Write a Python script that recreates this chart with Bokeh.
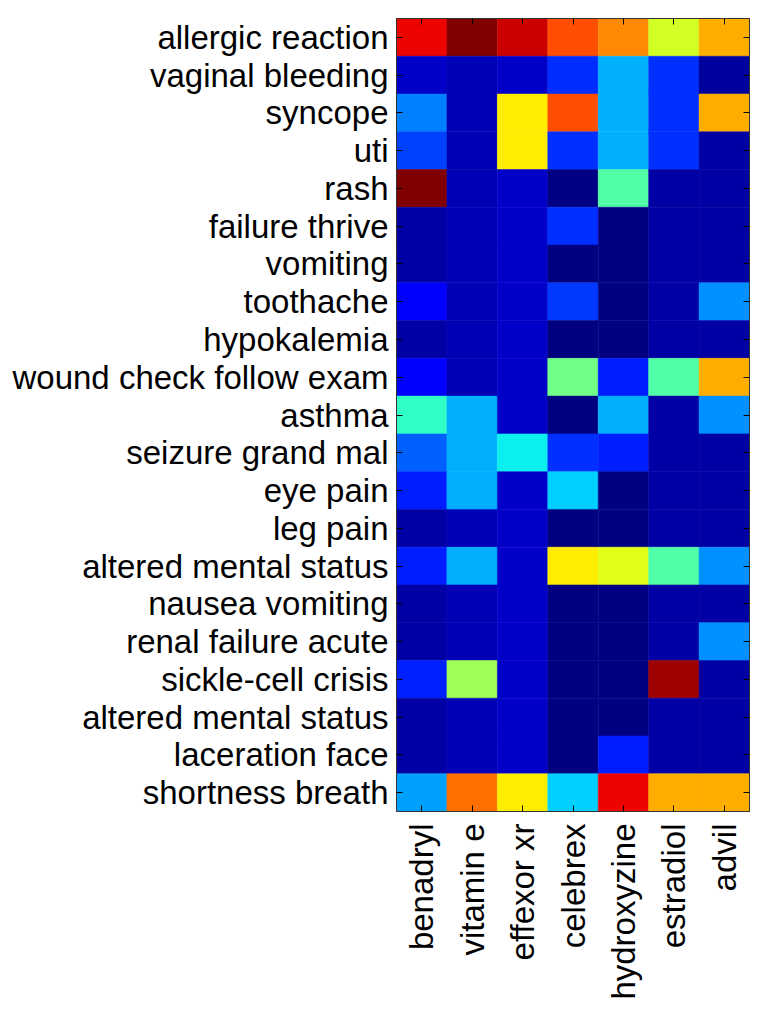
import math
import numpy as np
from bokeh.plotting import figure
from bokeh.models import (ColumnDataSource, LinearColorMapper, Range1d, FixedTicker,
                          LinearAxis)
from bokeh.transform import transform
from bokeh.embed import file_html
from bokeh.resources import INLINE

symptoms = ["allergic reaction", "vaginal bleeding", "syncope", "uti", "rash",
            "failure thrive", "vomiting", "toothache", "hypokalemia",
            "wound check follow exam", "asthma", "seizure grand mal", "eye pain",
            "leg pain", "altered mental status", "nausea vomiting",
            "renal failure acute", "sickle-cell crisis", "altered mental status",
            "laceration face", "shortness breath"]

drugs = ["benadryl", "vitamin e", "effexor xr", "celebrex", "hydroxyzine",
         "estradiol", "advil"]

benadryl = [0.905, 0.066, 0.25, 0.188, 1.0, 0.035, 0.035, 0.125, 0.035, 0.12, 0.41,
            0.22, 0.156, 0.035, 0.156, 0.035, 0.035, 0.16, 0.035, 0.035, 0.285]
vitamin_e = [1.0, 0.049, 0.049, 0.049, 0.049, 0.049, 0.049, 0.049, 0.049, 0.049, 0.298,
             0.298, 0.298, 0.049, 0.298, 0.049, 0.049, 0.545, 0.049, 0.049, 0.79]
effexor_xr = [0.93, 0.066, 0.658, 0.658, 0.066, 0.066, 0.066, 0.066, 0.066, 0.066, 0.066,
              0.36, 0.066, 0.066, 0.066, 0.066, 0.066, 0.066, 0.066, 0.066, 0.658]
celebrex = [0.826, 0.17, 0.826, 0.172, 0.005, 0.172, 0.0, 0.18, 0.0, 0.486, 0.0,
            0.172, 0.329, 0.0, 0.658, 0.0, 0.0, 0.0, 0.0, 0.0, 0.329]
hydroxyzine = [0.762, 0.298, 0.298, 0.298, 0.447, 0.0, 0.0, 0.0, 0.0, 0.156, 0.298,
               0.156, 0.0, 0.0, 0.622, 0.0, 0.0, 0.0, 0.0, 0.156, 0.905]
estradiol = [0.603, 0.175, 0.175, 0.175, 0.035, 0.035, 0.035, 0.035, 0.035, 0.447, 0.035,
             0.035, 0.035, 0.035, 0.447, 0.035, 0.035, 0.972, 0.035, 0.035, 0.724]
advil = [0.724, 0.028, 0.724, 0.035, 0.035, 0.035, 0.035, 0.266, 0.035, 0.724, 0.266,
         0.035, 0.035, 0.035, 0.266, 0.035, 0.266, 0.035, 0.035, 0.035, 0.724]

columns = [benadryl, vitamin_e, effexor_xr, celebrex, hydroxyzine, estradiol, advil]

# jet colormap palette
t = np.linspace(0, 1, 256)
r = np.interp(t, [0, 0.35, 0.66, 0.89, 1], [0, 0, 1, 1, 0.5])
g = np.interp(t, [0, 0.125, 0.375, 0.64, 0.91, 1], [0, 0, 1, 1, 0, 0])
b = np.interp(t, [0, 0.11, 0.34, 0.65, 1], [0.5, 1, 1, 0, 0])
jet = ["#%02x%02x%02x" % (int(round(rr * 255)), int(round(gg * 255)), int(round(bb * 255)))
       for rr, gg, bb in zip(r, g, b)]
mapper = LinearColorMapper(palette=jet, low=0, high=1)

xs, ys, vs = [], [], []
for j, col in enumerate(columns):
    for i, v in enumerate(col):
        xs.append(j)
        ys.append(i)
        vs.append(v)
src = ColumnDataSource(dict(x=xs, y=ys, v=vs))

p = figure(width=759, height=1018, output_backend="svg", toolbar_location=None,
           x_range=Range1d(-0.5, len(drugs) - 0.5),
           y_range=Range1d(len(symptoms) - 0.5, -0.5),
           min_border_left=396, min_border_right=10, min_border_top=18,
           min_border_bottom=207, x_axis_location="below", y_axis_location="left")
p.rect(x="x", y="y", width=1, height=1, source=src,
       fill_color=transform("v", mapper), line_color=transform("v", mapper),
       line_width=0.5)

p.xgrid.visible = False
p.ygrid.visible = False
p.outline_line_color = "#333333"
p.outline_line_width = 1
p.background_fill_color = "white"
p.border_fill_color = "white"

xticks = list(range(len(drugs)))
yticks = list(range(len(symptoms)))

def style(ax, ticks, labels, size, standoff):
    ax.ticker = FixedTicker(ticks=ticks)
    ax.major_label_overrides = {k: lab for k, lab in zip(ticks, labels)}
    ax.major_tick_in = 6
    ax.major_tick_out = 0
    ax.minor_tick_line_color = None
    ax.major_tick_line_color = "black"
    ax.major_tick_line_width = 1
    ax.axis_line_color = "#333333"
    ax.axis_line_width = 1
    ax.major_label_text_font = "Liberation Sans"
    ax.major_label_text_font_size = size
    ax.major_label_text_color = "black"
    ax.major_label_standoff = standoff

style(p.yaxis[0], yticks, symptoms, "33px", 8)
style(p.xaxis[0], xticks, drugs, "33px", 12)
p.xaxis[0].major_label_orientation = math.pi / 2

top = LinearAxis()
style(top, xticks, ["" for _ in xticks], "0px", 0)
p.add_layout(top, "above")
right = LinearAxis()
style(right, yticks, ["" for _ in yticks], "0px", 0)
p.add_layout(right, "right")

open("out.html", "w").write(file_html(p, INLINE))
